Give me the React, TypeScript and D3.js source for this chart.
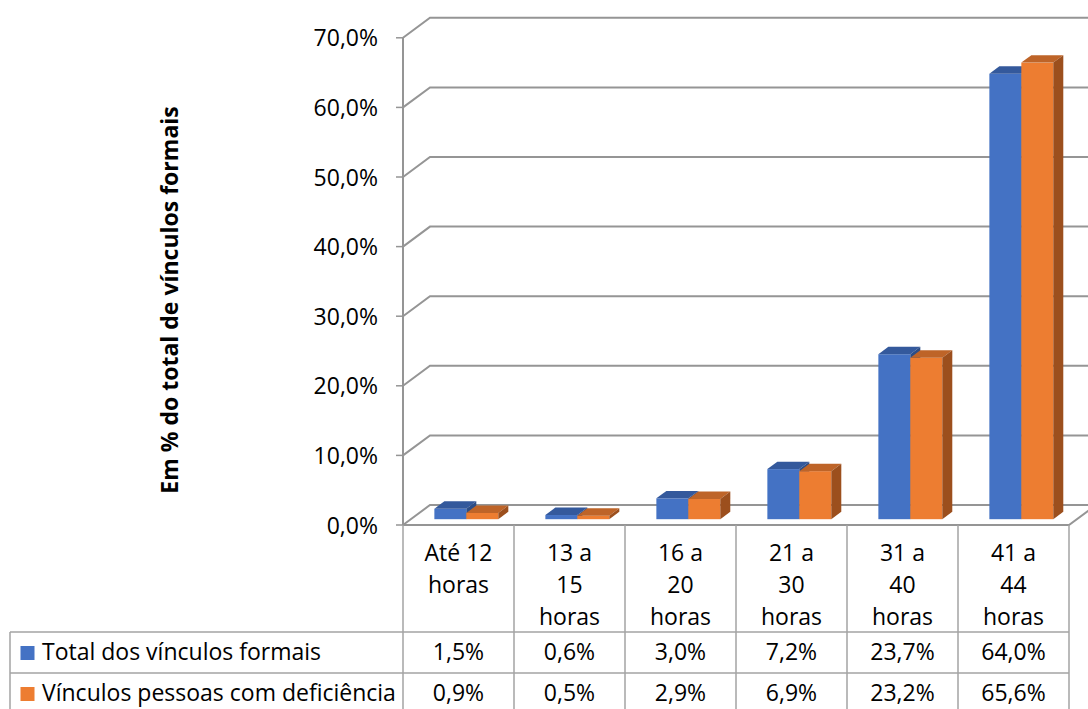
import React from "react";
import * as d3 from "d3";

const categories: string[][] = [
  ["Até 12", "horas"],
  ["13 a", "15", "horas"],
  ["16 a", "20", "horas"],
  ["21 a", "30", "horas"],
  ["31 a", "40", "horas"],
  ["41 a", "44", "horas"],
];
const seriesNames = ["Total dos vínculos formais", "Vínculos pessoas com deficiência"];
const totalValues = [1.5, 0.6, 3.0, 7.2, 23.7, 64.0];
const pcdValues = [0.9, 0.5, 2.9, 6.9, 23.2, 65.6];
const yTicks = [0, 10, 20, 30, 40, 50, 60, 70];
const yTitle = "Em % do total de vínculos formais";

const W = 1088;
const H = 709;
const FONT = "'Open Sans', sans-serif";
const FS = 23;

const colors = [
  { front: "#4472C4", top: "#34599C", side: "#2C4D87" },
  { front: "#ED7D31", top: "#BE6428", side: "#9C4F1D" },
];

const fmt = (v: number) => v.toFixed(1).replace(".", ",") + "%";

export default function App() {
  const x0 = 403;
  const x1 = 1069;
  const base = 525;
  const depth = { dx: 27, dy: -20 };
  const y = d3.scaleLinear().domain([0, 70]).range([base, base - 487.2]);
  const x = d3
    .scaleBand<number>()
    .domain(categories.map((_, i) => i))
    .range([x0, x1])
    .padding(0);
  const bw = x.bandwidth() * 0.288;
  const f0 = 0.29;
  const fd = 0.37;
  const sx = depth.dx * f0;
  const sy = depth.dy * f0;
  const bdx = depth.dx * fd;
  const bdy = depth.dy * fd;

  const series = [totalValues, pcdValues];
  const gridColor = "#959595";
  const tableColor = "#A3A3A3";
  const row1 = 632;
  const row2 = 673;
  const bottom = 714;

  const bars: JSX.Element[] = [];
  categories.forEach((_, i) => {
    const cx = x(i)! + x.bandwidth() / 2;
    series.forEach((vals, s) => {
      const c = colors[s];
      const left = cx - bw + s * bw + sx;
      const right = left + bw;
      const top = y(vals[i]) + sy;
      const bot = y(0) + sy;
      bars.push(
        <g key={`b${i}-${s}`}>
          <rect x={left} y={top} width={bw} height={bot - top} fill={c.front} />
          <path
            d={`M${left},${top}L${left + bdx},${top + bdy}L${right + bdx},${top + bdy}L${right},${top}Z`}
            fill={c.top}
          />
          <path
            d={`M${right},${top}L${right + bdx},${top + bdy}L${right + bdx},${bot + bdy}L${right},${bot}Z`}
            fill={c.side}
          />
        </g>
      );
    });
  });

  return (
    <svg
      width={W}
      height={H}
      style={{ position: "absolute", left: 0, top: 0, background: "#fff" }}
      fontFamily={FONT}
    >
      <rect x={0} y={0} width={W} height={H} fill="#fff" />
      {/* gridlines */}
      {yTicks.map((t) => {
        const yy = y(t);
        return (
          <path
            key={`g${t}`}
            d={`M${x0},${yy}L${x0 + depth.dx},${yy + depth.dy}L${W + 20},${yy + depth.dy}`}
            fill="none"
            stroke={gridColor}
            strokeWidth={2}
          />
        );
      })}
      {/* floor front and right edge */}
      <path
        d={`M${x0},${base}L${x1},${base}L${x1 + depth.dx},${base + depth.dy}`}
        fill="none"
        stroke={gridColor}
        strokeWidth={2}
      />
      {/* axis */}
      <line x1={x0} x2={x0} y1={y(70)} y2={base} stroke={gridColor} strokeWidth={2} />
      {yTicks.map((t) => (
        <line key={`t${t}`} x1={x0 - 7} x2={x0} y1={y(t)} y2={y(t)} stroke={gridColor} strokeWidth={1.5} />
      ))}
      {yTicks.map((t) => (
        <text key={`l${t}`} x={378} y={y(t) + 8.5} textAnchor="end" fontSize={FS} fill="#000">
          {fmt(t)}
        </text>
      ))}
      <text
        transform={`translate(178,300) rotate(-90)`}
        textAnchor="middle"
        fontSize={FS}
        fontWeight="bold"
        fill="#000"
      >
        {yTitle}
      </text>
      {bars}
      {/* table */}
      {categories.map((_, i) => (
        <line
          key={`v${i}`}
          x1={x(i)!}
          x2={x(i)!}
          y1={base}
          y2={bottom}
          stroke={tableColor}
          strokeWidth={1.5}
        />
      ))}
      <line x1={x1} x2={x1} y1={base} y2={bottom} stroke={tableColor} strokeWidth={1.5} />
      <line x1={10} x2={10} y1={row1} y2={bottom} stroke={tableColor} strokeWidth={1.5} />
      <line x1={10} x2={x1} y1={row1} y2={row1} stroke={tableColor} strokeWidth={1.5} />
      <line x1={10} x2={x1} y1={row2} y2={row2} stroke={tableColor} strokeWidth={1.5} />
      <line x1={10} x2={x1} y1={bottom} y2={bottom} stroke={tableColor} strokeWidth={1.5} />
      {categories.map((lines, i) => (
        <text
          key={`c${i}`}
          x={x(i)! + x.bandwidth() / 2}
          textAnchor="middle"
          fontSize={FS}
          fill="#000"
        >
          {lines.map((ln, k) => (
            <tspan key={k} x={x(i)! + x.bandwidth() / 2} y={560.5 + k * 32.3}>
              {ln}
            </tspan>
          ))}
        </text>
      ))}
      {series.map((vals, s) => {
        const baseline = s === 0 ? 660 : 701;
        return (
          <g key={`r${s}`}>
            <rect x={20.5} y={baseline - 14} width={14} height={14} fill={colors[s].front} />
            <text x={42} y={baseline} fontSize={FS} fill="#000">
              {seriesNames[s]}
            </text>
            {vals.map((v, i) => (
              <text
                key={i}
                x={x(i)! + x.bandwidth() / 2}
                y={baseline}
                textAnchor="middle"
                fontSize={FS}
                fill="#000"
              >
                {fmt(v)}
              </text>
            ))}
          </g>
        );
      })}
    </svg>
  );
}
